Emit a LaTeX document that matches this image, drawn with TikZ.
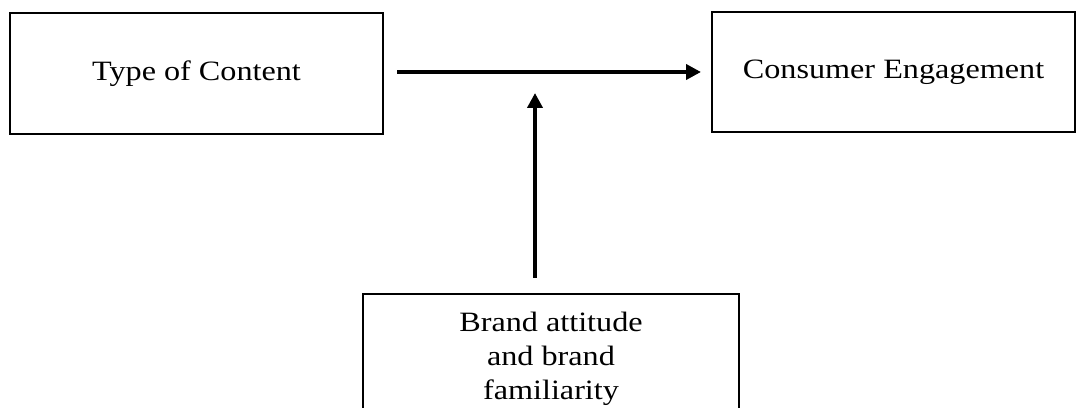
\documentclass[tikz,border=0pt]{standalone}
\usepackage{fontspec}
\setmainfont[FakeStretch=1.15]{Liberation Serif}
\usetikzlibrary{arrows.meta}
\begin{document}
\begin{tikzpicture}[x=1pt,y=1pt,
  box/.style={draw=black,line width=1.4pt,inner sep=0pt,align=center,font=\fontsize{28}{34}\selectfont},
  conn/.style={line width=4pt,-{Triangle[length=15pt,width=15pt]}}]
\useasboundingbox (0,0) rectangle (1076,407);
\clip (0,0) rectangle (1076,407);
\node[box,minimum width=373,minimum height=121] (toc) at (196.5,333.5) {Type of Content};
\node[box,minimum width=363,minimum height=120] (ce) at (893.5,335) {Consumer Engagement};
\node[box,minimum width=376,minimum height=130] (ba) at (551,48) {Brand attitude\\and brand\\familiarity};
\coordinate (hs) at (397,335);
\coordinate (he) at (701,335);
\coordinate (vs) at (535,129);
\coordinate (ve) at (535,314);
\draw[conn] (hs) -- (he);
\draw[conn] (vs) -- (ve);
\end{tikzpicture}
\end{document}
